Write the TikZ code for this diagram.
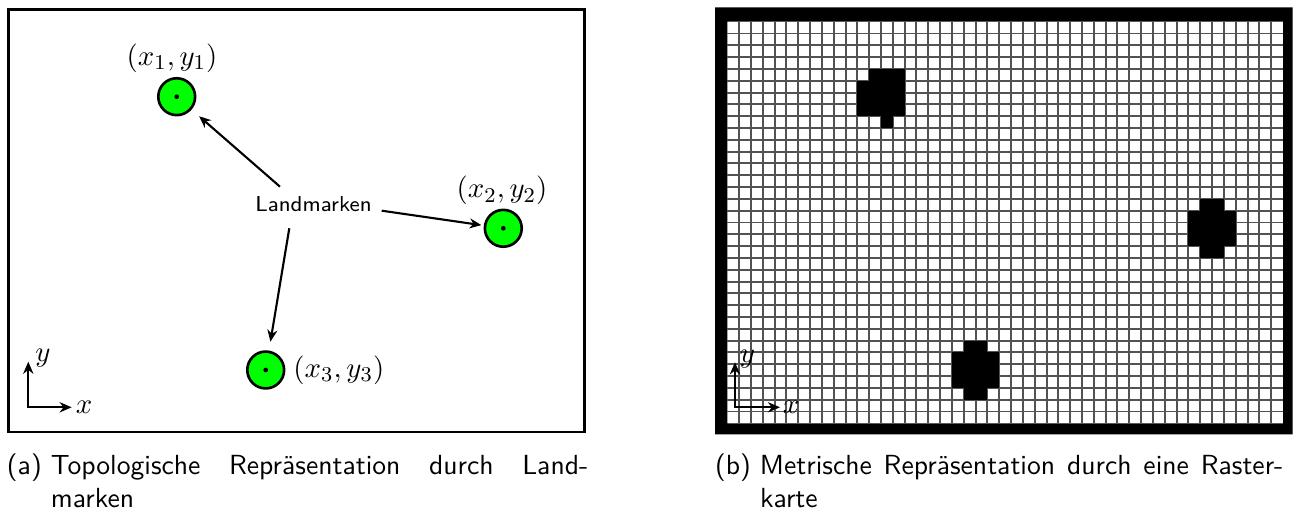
\documentclass[tikz,border=0pt]{standalone}
\usetikzlibrary{arrows.meta,calc}
\begin{document}
\begin{tikzpicture}[x=0.38pt,y=-0.38pt,
  every node/.style={inner sep=0pt,outer sep=0pt},
  lmk/.style={circle,draw,line width=1pt,fill=green,minimum size=14pt,inner sep=0pt,outer sep=0.5pt},
  arr/.style={line width=0.8pt,-{Stealth[length=4.5pt,width=3.8pt]}},
  axarr/.style={line width=0.85pt,{Stealth[length=4.6pt,width=3.9pt]}-{Stealth[length=4.6pt,width=3.9pt]}},
  coordlbl/.style={font=\fontsize{11}{13}\selectfont},
  axlbl/.style={font=\fontsize{10.5}{12}\selectfont},
  gridline/.style={line width=0.75pt,black!68},
  captxt/.style={font=\sffamily\fontsize{10.5}{12.8}\selectfont,anchor=base west}]
\fill[white] (0,0) rectangle (1309,513);
\useasboundingbox (0,0) rectangle (1309,513);
% ---------- left panel ----------
\draw[line width=1pt] (8.7,9.3) rectangle (584.5,432);
\node[lmk] (c1) at (176.7,96.7) {};
\node[lmk] (c2) at (503.3,228.3) {};
\node[lmk] (c3) at (265.7,370) {};
\fill (c1) circle (0.9pt);
\fill (c2) circle (0.9pt);
\fill (c3) circle (0.9pt);
\node[coordlbl] (l1) at (172,58) {$(x_1,y_1)$};
\node[coordlbl] (l2) at (502,190.8) {$(x_2,y_2)$};
\node[coordlbl,anchor=west] (l3) at ($(c3.east)+(8,0)$) {$(x_3,y_3)$};
\node[font=\sffamily\fontsize{8.2}{10}\selectfont] (lm) at (313.5,204) {Landmarken};
\draw[arr,shorten >=3.8pt] ($(lm.center)+(-33.5,-17.3)$) -- (c1);
\draw[arr,shorten >=0.9pt] ($(lm.center)+(68.2,6.7)$) -- (c2);
\draw[arr,shorten >=3.4pt] ($(lm.center)+(-24.2,24.3)$) -- (c3);
% axes left
\coordinate (o1) at (28.3,407.3);
\coordinate (ya1) at (28.3,361.7);
\coordinate (xa1) at (71.7,407.3);
\draw[axarr] (ya1) -- (o1) -- (xa1);
\node[axlbl] (ylab1) at (43,358) {$y$};
\node[axlbl] (xlab1) at (84,407) {$x$};
% ---------- right panel ----------
\fill[black,even odd rule] (715,7.3) rectangle (1292.7,434.5) (727.3,21.7) rectangle (1283,423.3);
\foreach \i in {1,...,46} \draw[gridline] ({727.3+11.823*\i},21.7) -- ++(0,401.6);
\foreach \j in {1,...,33} \draw[gridline] (727.3,{21.7+11.812*\j}) -- ++(555.7,0);
\foreach \i/\j in {12/4,13/4,14/4,
  11/5,12/5,13/5,14/5, 11/6,12/6,13/6,14/6, 11/7,12/7,13/7,14/7, 13/8,
  40/15,41/15,
  39/16,40/16,41/16,42/16, 39/17,40/17,41/17,42/17, 39/18,40/18,41/18,42/18,
  40/19,41/19,
  20/27,21/27,
  19/28,20/28,21/28,22/28, 19/29,20/29,21/29,22/29, 19/30,20/30,21/30,22/30,
  20/31,21/31}
  \fill[black] ({727.3+11.823*\i},{21.7+11.812*\j}) rectangle ++(11.823,11.812);
% axes right
\coordinate (o2) at (735,407.3);
\coordinate (ya2) at (735,362.3);
\coordinate (xa2) at (780,407.3);
\draw[axarr] (ya2) -- (o2) -- (xa2);
\node[axlbl] (ylab2) at (747.5,359) {$y$};
\node[axlbl] (xlab2) at (791,407.5) {$x$};
% ---------- captions ----------
\node[captxt] (capa1) at (7,475) {\makebox[220.9pt][s]{(a)\kern3.5pt Topologische Repräsentation durch Land-}};
\node[captxt] (capa2) at (7,508) {\phantom{(a)}\kern3.5pt marken};
\node[captxt] (capb1) at (715,475) {\makebox[216pt][s]{(b)\kern3.5pt Metrische Repräsentation durch eine Raster-}};
\node[captxt] (capb2) at (715,508) {\phantom{(b)}\kern3.5pt karte};
\end{tikzpicture}
\end{document}
